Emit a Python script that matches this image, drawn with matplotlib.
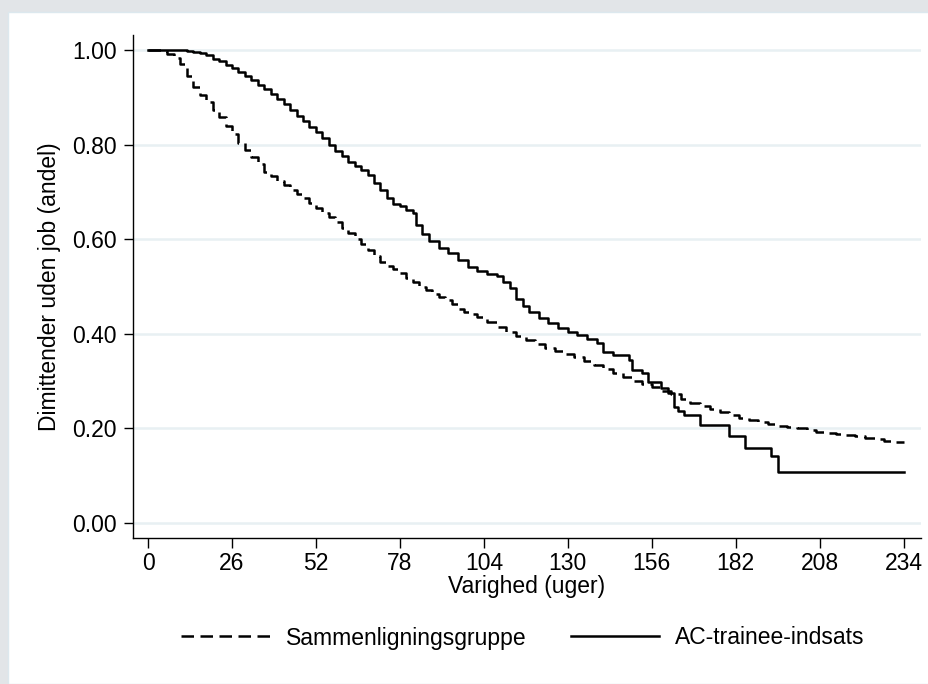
import matplotlib
matplotlib.use("Agg")
import matplotlib.pyplot as plt
from matplotlib.patches import Rectangle
from matplotlib.lines import Line2D

plt.rcParams['font.family'] = ['Liberation Sans', 'DejaVu Sans']

# ---- data ----
series_names = ["Sammenligningsgruppe", "AC-trainee-indsats"]

comp_weeks = [0, 2, 4, 6, 8, 10, 12, 14, 16, 18, 20, 22, 24, 26, 28, 30, 32, 34,
              36, 38, 40, 42, 44, 46, 48, 50, 52, 54, 56, 58, 60, 62, 64, 66, 68,
              70, 72, 74, 76, 78, 80, 82, 84, 86, 88, 90, 92, 94, 96, 98, 100,
              102, 105, 108, 111, 114, 117, 120, 123, 126, 129, 132, 135, 138, 141,
              144, 147, 150, 153, 156, 159, 162, 165, 168, 171, 174, 177, 180, 183,
              186, 189, 192, 195, 198, 201, 204, 207, 210, 213, 216, 219, 222, 225,
              228, 231, 234]
comp_surv = [1.000, 1.000, 0.998, 0.992, 0.983, 0.970, 0.946, 0.921, 0.904, 0.889,
             0.874, 0.858, 0.840, 0.822, 0.803, 0.788, 0.773, 0.758, 0.743, 0.733,
             0.724, 0.715, 0.705, 0.696, 0.687, 0.677, 0.667, 0.656, 0.646, 0.636,
             0.624, 0.613, 0.601, 0.590, 0.577, 0.564, 0.552, 0.544, 0.536, 0.528,
             0.519, 0.509, 0.499, 0.492, 0.485, 0.478, 0.471, 0.463, 0.453, 0.447,
             0.441,
             0.435, 0.425, 0.414, 0.404, 0.395, 0.386, 0.378, 0.370, 0.363, 0.357,
             0.350, 0.342, 0.334, 0.325, 0.317, 0.309, 0.301, 0.293, 0.287, 0.280,
             0.272, 0.263, 0.254, 0.247, 0.240, 0.234, 0.228, 0.223, 0.218, 0.213,
             0.209, 0.206, 0.203, 0.200, 0.196, 0.193, 0.190, 0.188, 0.186, 0.184,
             0.180, 0.177, 0.174, 0.172, 0.171]

ac_weeks = [0, 8, 10, 12, 14, 16, 18, 20, 22, 24, 26, 28, 30, 32, 34, 36, 38, 40,
            42, 44, 46, 48, 50, 52, 54, 56, 58, 60, 62, 64, 66, 68, 70, 72, 74, 76,
            78, 80, 82, 83, 85, 87, 90, 93, 96, 99, 102,
            105, 108, 110, 112, 114, 116, 118, 121, 124, 127, 130, 133, 136, 139,
            141, 144, 149, 150, 153, 155, 159, 161, 163, 164, 166, 171, 180, 185,
            193, 195, 234]
ac_surv = [1.000, 1.000, 0.999, 0.998, 0.996, 0.994, 0.989, 0.982, 0.976, 0.969,
           0.962, 0.954, 0.946, 0.937, 0.927, 0.917, 0.906, 0.896, 0.885, 0.873,
           0.860, 0.849, 0.838, 0.827, 0.813, 0.800, 0.787, 0.775, 0.763, 0.754,
           0.746, 0.735, 0.718, 0.703, 0.687, 0.675, 0.670, 0.662, 0.655, 0.630,
           0.612, 0.596, 0.582, 0.570, 0.555, 0.541, 0.532,
           0.527, 0.522, 0.510, 0.497, 0.474, 0.458, 0.446, 0.433, 0.422, 0.413,
           0.404, 0.397, 0.390, 0.381, 0.362, 0.355, 0.345, 0.323, 0.318, 0.298,
           0.285, 0.275, 0.245, 0.236, 0.228, 0.207, 0.184, 0.159, 0.142, 0.108,
           0.108]

x_ticks = [0, 26, 52, 78, 104, 130, 156, 182, 208, 234]
y_ticks = [0.0, 0.2, 0.4, 0.6, 0.8, 1.0]
y_ticklabels = ["0.00", "0.20", "0.40", "0.60", "0.80", "1.00"]
x_label = "Varighed (uger)"
y_label = "Dimittender uden job (andel)"

# ---- figure ----
W, H = 929, 684
fig = plt.figure(figsize=(W / 100, H / 100), dpi=100)
fig.patch.set_facecolor('#e2e5e8')
fig.patches.append(Rectangle((8 / W, 0), 1 - 8 / W, (H - 12) / H,
                             transform=fig.transFigure, facecolor='white',
                             edgecolor='#dce8ee', linewidth=1.0, zorder=-10))

left, right, top, bottom = 133, 921, 35, 538
ax = fig.add_axes([left / W, 1 - bottom / H, (right - left) / W, (bottom - top) / H])
ax.set_zorder(5)
ax.patch.set_visible(False)

fs = 16.5
lw = 1.8
dash = (5.0, 2.6)
ax.step(comp_weeks, comp_surv, where='post', color='black', linewidth=lw,
        dashes=dash, label=series_names[0], zorder=3)
ax.step(ac_weeks, ac_surv, where='post', color='black', linewidth=lw,
        label=series_names[1], zorder=3)

ax.set_xlim(-4.65, 239.4)
ax.set_ylim(-0.0317, 1.0317)
ax.set_xticks(x_ticks)
ax.set_yticks(y_ticks)
ax.set_yticklabels(y_ticklabels)
for yv in y_ticks:
    ax.axhline(yv, color='#e8f0f3', linewidth=1.8, zorder=1)

for s in ['top', 'right']:
    ax.spines[s].set_visible(False)
for s in ['left', 'bottom']:
    ax.spines[s].set_linewidth(1.0)
    ax.spines[s].set_color('black')

ax.tick_params(axis='x', direction='out', length=7.2, width=1.0, pad=3.0, labelsize=fs)
ax.tick_params(axis='y', direction='out', length=6.5, width=1.0, pad=5, labelsize=fs)

ax.set_xlabel(x_label, fontsize=fs)
ax.xaxis.set_label_coords(0.5, -0.074)
ax.set_ylabel(y_label, fontsize=fs)
ax.yaxis.set_label_coords(-0.092, 0.5)

handles = [Line2D([], [], color='black', linewidth=lw, dashes=dash),
           Line2D([], [], color='black', linewidth=lw)]
fig.legend(handles, series_names, loc='center', ncol=2, frameon=False,
           fontsize=fs, handlelength=3.85, handletextpad=0.7, columnspacing=1.95,
           bbox_to_anchor=(523 / W, 1 - 638 / H))

fig.savefig('out.png', dpi=100, facecolor=fig.get_facecolor())
